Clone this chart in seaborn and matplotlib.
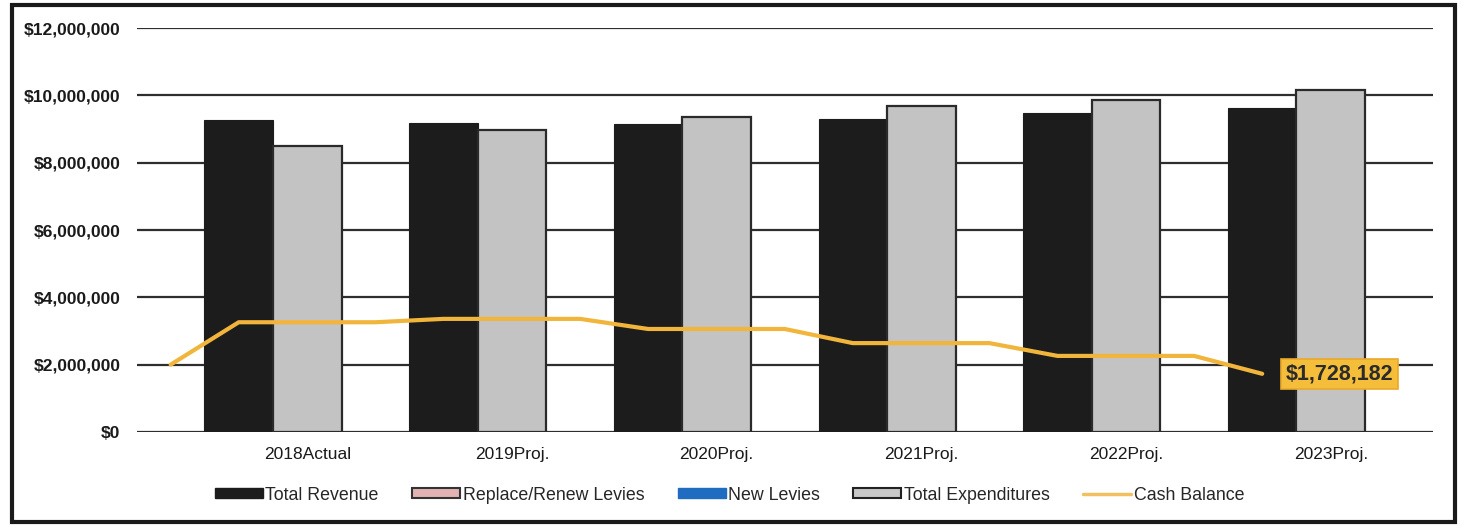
import matplotlib
matplotlib.use("Agg")
import matplotlib.pyplot as plt
from matplotlib.patches import Patch, Rectangle
from matplotlib.lines import Line2D
from matplotlib.ticker import FuncFormatter
import seaborn as sns
import pandas as pd

# Five-year forecast data
years = ["2018Actual", "2019Proj.", "2020Proj.", "2021Proj.", "2022Proj.", "2023Proj."]
total_revenue = [9270000, 9180000, 9150000, 9300000, 9470000, 9620000]
total_expenditures = [8490000, 8970000, 9360000, 9680000, 9860000, 10160000]
replace_renew_levies = [0, 0, 0, 0, 0, 0]
new_levies = [0, 0, 0, 0, 0, 0]
opening_cash = 2000000
cash_balance = [3260000, 3360000, 3060000, 2640000, 2260000, 1728182]

sns.set_theme(style="white")
plt.rcParams["font.family"] = ["Liberation Sans", "DejaVu Sans"]

fig = plt.figure(figsize=(14.66, 5.29), dpi=100)
ax = fig.add_axes([0.0935, 0.1834, 0.884, 0.7636])

df = pd.DataFrame({
    "year": years * 2,
    "series": ["Total Revenue"] * len(years) + ["Total Expenditures"] * len(years),
    "amount": total_revenue + total_expenditures,
})

sns.barplot(data=df, x="year", y="amount", hue="series", order=years,
            palette={"Total Revenue": "#1c1c1c", "Total Expenditures": "#c3c3c3"},
            width=0.67, dodge=True, ax=ax, legend=False, zorder=3)
for p in ax.patches:
    if abs(p.get_facecolor()[0] - 0.765) < 0.05:
        p.set_edgecolor("#2a2a2a")
        p.set_linewidth(1.6)
    else:
        p.set_edgecolor("#1c1c1c")
        p.set_linewidth(0.8)

# Cash balance runs from the prior year-end through each year's revenue bar
half = 0.67 / 4
line_x = [-0.5]
line_y = [opening_cash]
for i, v in enumerate(cash_balance):
    line_x.append(i - half)
    line_y.append(v)
    if i < len(cash_balance) - 1:
        line_x.append(i + 0.5)
        line_y.append(v)
cash_df = pd.DataFrame({"x": line_x, "y": line_y})
sns.lineplot(data=cash_df, x="x", y="y", color="#f2b53c", linewidth=3,
             ax=ax, zorder=5, sort=False, estimator=None)
for ln in ax.lines:
    ln.set_solid_joinstyle("round")

ax.annotate(f"${cash_balance[-1]:,.0f}", xy=(len(years) - 1 - half, cash_balance[-1]),
            xytext=(77, 0), textcoords="offset pixels", ha="center", va="center",
            fontsize=15.5, fontweight="bold", color="#2b2b2b", zorder=6,
            bbox=dict(boxstyle="square,pad=0.22", facecolor="#f4bd3a",
                      edgecolor="#eaa92c", linewidth=1.2))

ax.set_ylim(0, 12000000)
ax.set_xlim(-0.664, 5.667)
ax.set_yticks(range(0, 12000001, 2000000))
ax.yaxis.set_major_formatter(FuncFormatter(lambda v, _: f"${v:,.0f}"))
ax.set_xticks([i + half for i in range(len(years))])
ax.set_xticklabels(years)
ax.set_xlabel("")
ax.set_ylabel("")
ax.tick_params(axis="y", length=0, pad=12, labelsize=12.5, labelcolor="#1a1a1a")
ax.tick_params(axis="x", length=0, pad=10.5, labelsize=12.5, labelcolor="#1a1a1a")
for t in ax.get_yticklabels():
    t.set_fontweight("bold")
ax.grid(axis="y", color="#2e2e2e", linewidth=1.6, zorder=0)
ax.set_axisbelow(True)
for s in ax.spines.values():
    s.set_visible(False)

handles = [
    Patch(facecolor="#1c1c1c", edgecolor="#1c1c1c", label="Total Revenue"),
    Patch(facecolor="#e3b3b3", edgecolor="#333333", linewidth=1.5, label="Replace/Renew Levies"),
    Patch(facecolor="#1f6cc0", edgecolor="#1f6cc0", label="New Levies"),
    Patch(facecolor="#c8c8c8", edgecolor="#222222", linewidth=1.5, label="Total Expenditures"),
    Line2D([0], [0], color="#f2c060", linewidth=2.5, label="Cash Balance"),
]
fig.legend(handles=handles, loc="center", bbox_to_anchor=(0.4976, 0.064), ncol=5,
           frameon=False, fontsize=12.8, handlelength=2.7, handleheight=0.5,
           handletextpad=0.15, columnspacing=1.87)

# Outer frame around the chart area
fig.patches.append(Rectangle((0.0082, 0.0132), 0.9843, 0.9773, transform=fig.transFigure,
                             fill=False, edgecolor="#1a1a1a", linewidth=3))

fig.savefig("out.png", dpi=100, facecolor="white")
